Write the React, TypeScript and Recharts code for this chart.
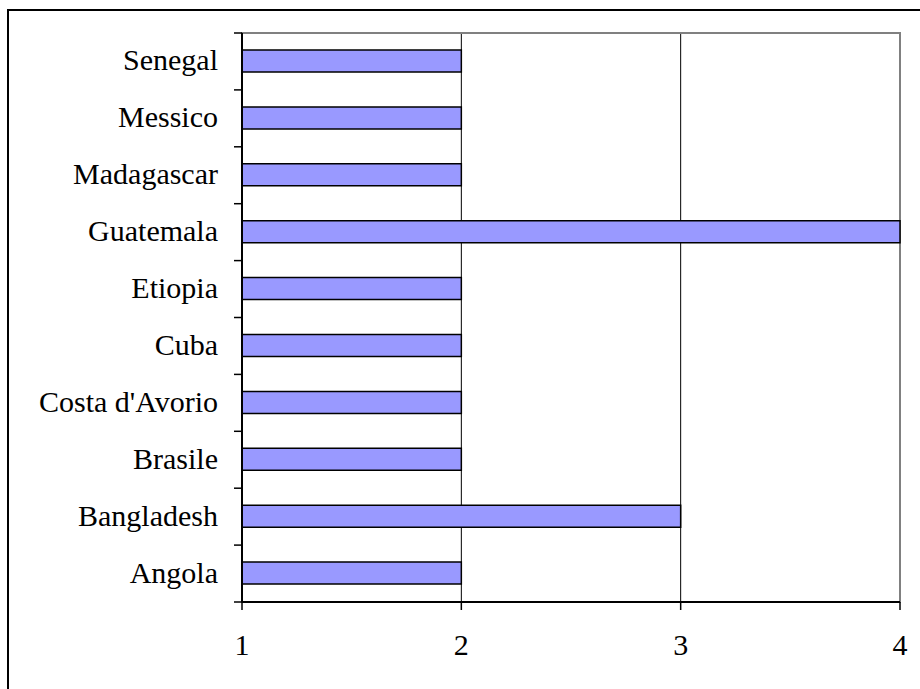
import React from "react";
import {
  Bar,
  BarChart,
  CartesianGrid,
  ReferenceArea,
  XAxis,
  YAxis,
} from "recharts";

// categories bottom to top, like the original sheet
const countries = [
  "Angola",
  "Bangladesh",
  "Brasile",
  "Costa d'Avorio",
  "Cuba",
  "Etiopia",
  "Guatemala",
  "Madagascar",
  "Messico",
  "Senegal",
];
const counts = [2, 3, 2, 2, 2, 2, 4, 2, 2, 2];
const xTicks = [1, 2, 3, 4];

const data = countries.map((name, i) => ({ name, value: counts[i] }));

const FONT = "Liberation Serif, DejaVu Serif, serif";
const textStyle = { fontFamily: FONT, fontSize: 30 };

const CategoryTick = (props: any) => {
  const { x, y, payload, index } = props;
  const half = payload.offset || 0;
  const axisX = x + 8;
  return (
    <g>
      <line x1={axisX - 8} x2={axisX} y1={y - half} y2={y - half} stroke="#000" strokeWidth={1.5} />
      {index === 0 && (
        <line x1={axisX - 8} x2={axisX} y1={y + half} y2={y + half} stroke="#000" strokeWidth={1.5} />
      )}
      <text x={axisX - 24} y={y} dy="0.3em" textAnchor="end" fill="#000" style={textStyle}>
        {payload.value}
      </text>
    </g>
  );
};

const NumberTick = (props: any) => {
  const { x, y, payload } = props;
  return (
    <text x={x} y={y} dy="0.71em" textAnchor="middle" fill="#000" style={textStyle}>
      {payload.value}
    </text>
  );
};

const App = () => {
  return (
    <div style={{ position: "fixed", left: 0, top: 0, width: 920, height: 689, background: "#fff" }}>
      <div
        style={{
          position: "absolute",
          left: 7,
          top: 9,
          width: 913,
          height: 680,
          borderLeft: "2px solid #000",
          borderTop: "2px solid #000",
          boxSizing: "border-box",
        }}
      />
      <div style={{ position: "absolute", left: 0, top: 0 }}>
        <BarChart
          width={920}
          height={689}
          data={data}
          layout="vertical"
          margin={{ top: 33, right: 20, bottom: 27, left: 0 }}
        >
          <CartesianGrid horizontal={false} stroke="#000" strokeWidth={1} />
          <ReferenceArea x1={1} x2={4} fill="none" stroke="#808080" strokeWidth={2} />
          <XAxis
            type="number"
            domain={[1, 4]}
            ticks={xTicks}
            height={60}
            axisLine={{ stroke: "#000", strokeWidth: 2 }}
            tickLine={{ stroke: "#000", strokeWidth: 1.5 }}
            tickSize={8}
            tickMargin={24}
            tick={<NumberTick />}
          />
          <YAxis
            type="category"
            dataKey="name"
            reversed
            width={242}
            interval={0}
            axisLine={{ stroke: "#000", strokeWidth: 2 }}
            tickLine={false}
            tick={<CategoryTick />}
          />
          <Bar
            dataKey="value"
            fill="#9999FF"
            stroke="#000"
            strokeWidth={1.5}
            barSize={22}
            isAnimationActive={false}
          />
        </BarChart>
      </div>
    </div>
  );
};

export default App;
